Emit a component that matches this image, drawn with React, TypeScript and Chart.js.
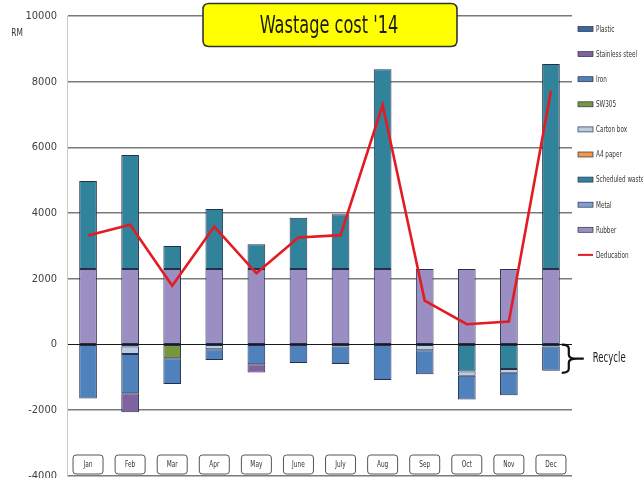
import React, { useEffect, useRef } from 'react';
import { Chart, registerables } from 'chart.js';

Chart.register(...registerables);

const FONT = "'Liberation Sans Narrow', 'DejaVu Sans Condensed', 'Liberation Sans', Arial, sans-serif";

const months = ['Jan', 'Feb', 'Mar', 'Apr', 'May', 'June', 'July', 'Aug', 'Sep', 'Oct', 'Nov', 'Dec'];
const yTicks = [-4000, -2000, 0, 2000, 4000, 6000, 8000, 10000];

const rubber = [2300, 2300, 2300, 2300, 2300, 2300, 2300, 2300, 2300, 2300, 2300, 2300];
const metal = [0, 0, 0, 0, 0, 0, 0, 0, 0, 0, 0, 0];
const scheduledWaste = [2680, 3470, 700, 1825, 750, 1560, 1670, 6080, 0, -820, -740, 6240];
const a4Paper = [0, -60, 0, 0, 0, 0, 0, 0, 0, 0, 0, 0];
const cartonBox = [0, -230, 0, -140, 0, 0, -60, 0, -170, -130, -120, -60];
const sw305 = [0, 0, -420, 0, 0, 0, 0, 0, 0, 0, 0, 0];
const iron = [-1640, -1190, -780, -330, -600, -560, -530, -1080, -730, -720, -680, -740];
const stainlessSteel = [0, -580, 0, 0, -250, 0, 0, 0, 0, 0, 0, 0];
const plastic = [0, 0, 0, 0, 0, 0, 0, 0, 0, 0, 0, 0];
const deducation = [3320, 3650, 1790, 3590, 2170, 3260, 3330, 7290, 1340, 620, 700, 7720];

const titleText = "Wastage cost '14";
const yUnit = 'RM';
const recycleText = 'Recycle';

const barSeries = [
  { label: 'Rubber', data: rubber, color: '#9b8ec2' },
  { label: 'Metal', data: metal, color: '#7f9fd4' },
  { label: 'Scheduled waste', data: scheduledWaste, color: '#31839b' },
  { label: 'A4 paper', data: a4Paper, color: '#f79646' },
  { label: 'Carton box', data: cartonBox, color: '#b9cde5' },
  { label: 'SW305', data: sw305, color: '#77963d' },
  { label: 'Iron', data: iron, color: '#4f81bd' },
  { label: 'Stainless steel', data: stainlessSteel, color: '#7f63a1' },
  { label: 'Plastic', data: plastic, color: '#3b689c' },
];

function roundRect(ctx: CanvasRenderingContext2D, x: number, y: number, w: number, h: number, r: number) {
  ctx.beginPath();
  ctx.moveTo(x + r, y);
  ctx.lineTo(x + w - r, y);
  ctx.quadraticCurveTo(x + w, y, x + w, y + r);
  ctx.lineTo(x + w, y + h - r);
  ctx.quadraticCurveTo(x + w, y + h, x + w - r, y + h);
  ctx.lineTo(x + r, y + h);
  ctx.quadraticCurveTo(x, y + h, x, y + h - r);
  ctx.lineTo(x, y + r);
  ctx.quadraticCurveTo(x, y, x + r, y);
  ctx.closePath();
}

function narrowText(
  ctx: CanvasRenderingContext2D,
  text: string,
  x: number,
  y: number,
  size: number,
  align: CanvasTextAlign,
  sx: number,
  color: string,
) {
  ctx.save();
  ctx.translate(x, y);
  ctx.scale(sx, 1);
  ctx.font = `${size}px ${FONT}`;
  ctx.textAlign = align;
  ctx.textBaseline = 'middle';
  ctx.fillStyle = color;
  ctx.fillText(text, 0, 0);
  ctx.restore();
}

const decorPlugin = {
  id: 'decor',
  afterDraw(chart: any) {
    const ctx: CanvasRenderingContext2D = chart.ctx;
    const xs = chart.scales.x;
    const ys = chart.scales.y;
    const area = chart.chartArea;
    ctx.save();

    // Title box
    roundRect(ctx, 203, 3.5, 254, 43, 6);
    ctx.fillStyle = '#ffff00';
    ctx.fill();
    ctx.lineWidth = 1.6;
    ctx.strokeStyle = '#333333';
    ctx.stroke();
    narrowText(ctx, titleText, 329, 26, 25, 'center', 0.72, '#1a1a1a');

    // Unit label
    narrowText(ctx, yUnit, 17, 33, 11, 'center', 0.75, '#333333');

    // Month boxes
    months.forEach((m, i) => {
      const cx = xs.getPixelForValue(i);
      roundRect(ctx, cx - 15, 455, 30, 19, 3);
      ctx.fillStyle = '#ffffff';
      ctx.fill();
      ctx.lineWidth = 1;
      ctx.strokeStyle = '#555555';
      ctx.stroke();
      narrowText(ctx, m, cx, 465, 9, 'center', 0.72, '#333333');
    });

    // Legend (reverse series order)
    const legendItems = [...chart.data.datasets].reverse();
    legendItems.forEach((ds: any, i: number) => {
      const y = 29 + i * 25.1;
      const x = area.right + 6;
      if (ds.type === 'line') {
        ctx.strokeStyle = ds.borderColor;
        ctx.lineWidth = 2;
        ctx.beginPath();
        ctx.moveTo(x, y);
        ctx.lineTo(x + 15, y);
        ctx.stroke();
      } else {
        ctx.fillStyle = ds.backgroundColor;
        ctx.fillRect(x, y - 2.5, 15, 5);
        ctx.strokeStyle = '#2b3245';
        ctx.lineWidth = 0.7;
        ctx.strokeRect(x, y - 2.5, 15, 5);
      }
      narrowText(ctx, ds.label, x + 18, y + 0.5, 9, 'left', 0.7, '#333333');
    });

    // Recycle brace on the last month's negative stack
    const last = months.length - 1;
    const ironIdx = chart.data.datasets.findIndex((d: any) => d.label === 'Iron');
    const bar = chart.getDatasetMeta(ironIdx).data[last] as any;
    let negTotal = 0;
    barSeries.forEach((s) => { if (s.data[last] < 0) negTotal += s.data[last]; });
    const y0 = ys.getPixelForValue(0);
    const y1 = ys.getPixelForValue(negTotal) + 2;
    const bx = bar.x + bar.width / 2 + 2;
    const xm = bx + 7;
    const tip = bx + 15;
    const ym = (y0 + y1) / 2;
    ctx.strokeStyle = '#111111';
    ctx.lineWidth = 2.2;
    ctx.beginPath();
    ctx.moveTo(bx, y0);
    ctx.quadraticCurveTo(xm, y0, xm, y0 + 4);
    ctx.lineTo(xm, ym - 4);
    ctx.quadraticCurveTo(xm, ym, tip, ym);
    ctx.quadraticCurveTo(xm, ym, xm, ym + 4);
    ctx.lineTo(xm, y1 - 4);
    ctx.quadraticCurveTo(xm, y1, bx, y1);
    ctx.moveTo(tip, ym);
    ctx.lineTo(tip + 7, ym);
    ctx.stroke();
    narrowText(ctx, recycleText, tip + 16, ym, 14, 'left', 0.68, '#222222');

    ctx.restore();
  },
};

export default function App() {
  const ref = useRef<HTMLCanvasElement | null>(null);

  useEffect(() => {
    if (!ref.current) return;
    const datasets: any[] = [
      {
        type: 'line',
        label: 'Deducation',
        data: deducation,
        borderColor: '#e31b23',
        backgroundColor: '#e31b23',
        borderWidth: 2.6,
        pointRadius: 0,
        tension: 0,
        stack: 'ded',
        fill: false,
      },
      ...barSeries.map((s) => ({
        type: 'bar',
        label: s.label,
        data: s.data,
        backgroundColor: s.color,
        borderColor: '#26304a',
        borderWidth: 1,
        borderSkipped: false,
        stack: 'bars',
        barPercentage: 0.42,
        categoryPercentage: 1,
      })),
    ];

    const chart = new Chart(ref.current, {
      type: 'bar',
      data: { labels: months, datasets },
      options: {
        responsive: false,
        animation: false,
        devicePixelRatio: 1,
        layout: { padding: { top: 16, bottom: 2, left: 0, right: 71 } },
        plugins: {
          legend: { display: false },
          tooltip: { enabled: false },
          title: { display: false },
        },
        scales: {
          x: {
            display: false,
            stacked: true,
            offset: true,
          },
          y: {
            stacked: true,
            min: -4000,
            max: 10000,
            afterBuildTicks: (s: any) => {
              s.ticks = yTicks.map((v) => ({ value: v }));
            },
            afterFit: (s: any) => {
              s.width = 67;
              s.paddingTop = 0;
              s.paddingBottom = 0;
            },
            ticks: {
              padding: 10,
              color: '#404040',
              font: { size: 11, family: FONT },
              callback: (v: any) => String(v),
            },
            grid: {
              drawTicks: false,
              color: (c: any) => (c.tick && c.tick.value === 0 ? '#1a1a1a' : '#7a7a7a'),
              lineWidth: (c: any) => (c.tick && c.tick.value === 0 ? 1 : 1.6),
            },
            border: { display: true, color: '#c8c8c8', width: 1 },
          },
        },
      },
      plugins: [decorPlugin],
    } as any);

    return () => chart.destroy();
  }, []);

  return (
    <div style={{ position: 'fixed', left: 0, top: 0, width: 643, height: 478, background: '#ffffff' }}>
      <canvas ref={ref} width={643} height={478} />
    </div>
  );
}
